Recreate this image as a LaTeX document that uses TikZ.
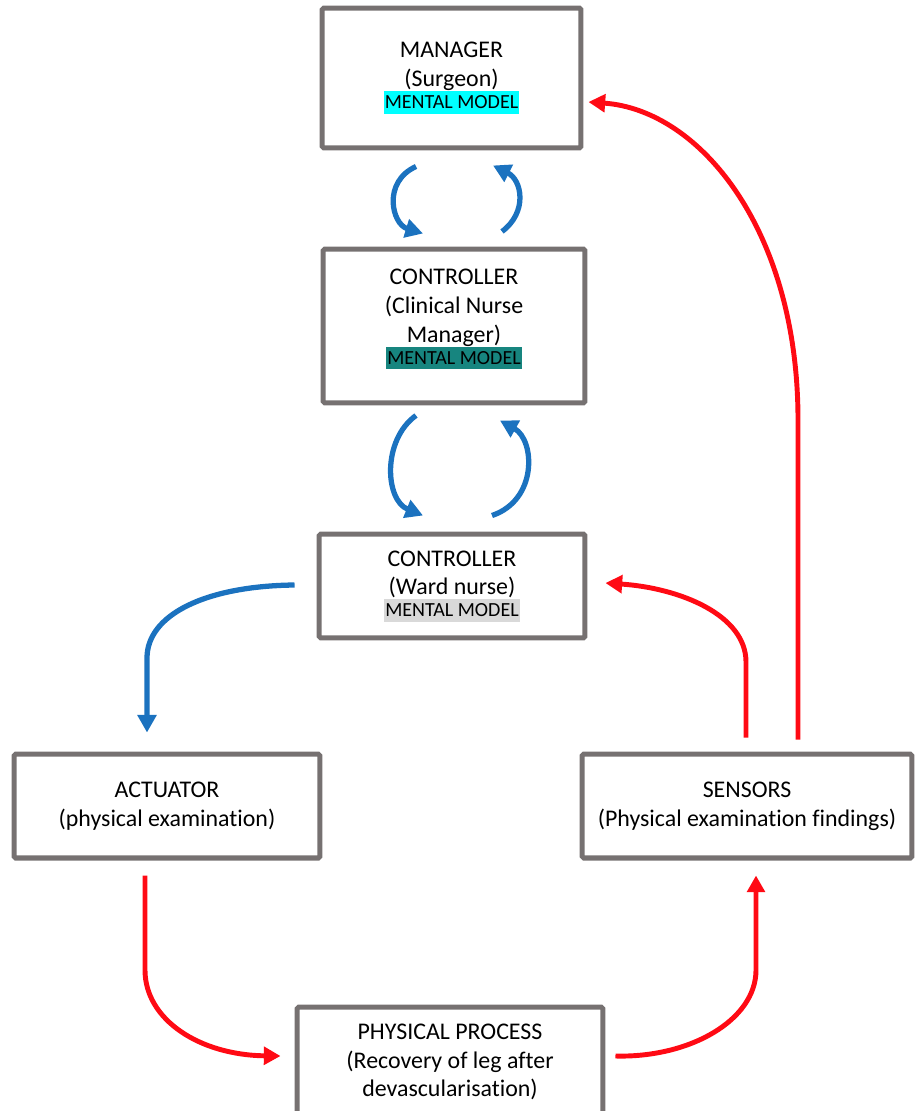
\documentclass[tikz,border=0pt]{standalone}
\usepackage{fontspec}
\setmainfont[Ligatures=NoCommon]{Carlito}
\usetikzlibrary{arrows.meta,calc}
\definecolor{boxgray}{HTML}{767171}
\definecolor{flowblue}{HTML}{1B72BF}
\definecolor{flowred}{HTML}{FF0A14}
\definecolor{mmcyan}{HTML}{00FFFF}
\definecolor{mmteal}{HTML}{17857F}
\definecolor{mmgray}{HTML}{D9D9D9}
\newcommand{\mentalmodel}[1]{{\fontsize{11.4}{13}\selectfont\setlength{\fboxsep}{0pt}%
    \colorbox{#1}{\rule[-2.8pt]{0pt}{12.8pt}\hspace{0.6pt}MENTAL MODEL\hspace{0.6pt}}}}

\begin{document}
\begin{tikzpicture}[x=0.02cm, y=-0.02cm,
    box/.style={draw=boxgray, line width=2.85pt, rounded corners=1pt, align=center, inner sep=0pt,
        font=\fontsize{13.6}{16.4}\selectfont},
    blueflow/.style={draw=flowblue, line width=3pt, -{Triangle[length=10pt,width=10.5pt]}},
    redflow/.style={draw=flowred, line width=2.8pt, -{Triangle[length=9.5pt,width=10pt]}}]
    \useasboundingbox (0,0) rectangle (914,1111);

    \node[box, minimum width=5.18cm, minimum height=2.8cm] (mgr) at (451.5,78)
        {MANAGER\\(Surgeon)\\[-4pt]\mentalmodel{mmcyan}};
    \node[box, minimum width=5.24cm, minimum height=3.08cm] (cnm) at (454,326)
        {CONTROLLER\\(Clinical Nurse\\Manager)\\[-4pt]\mentalmodel{mmteal}\\[-6pt]\mbox{}};
    \node[box, minimum width=5.32cm, minimum height=2.08cm] (ward) at (452,586)
        {CONTROLLER\\(Ward nurse)\\[-4pt]\mentalmodel{mmgray}};
    \node[box, minimum width=6.12cm, minimum height=2.08cm] (act) at (167,806)
        {ACTUATOR\\(physical examination)};
    \node[box, minimum width=6.6cm, minimum height=2.08cm] (sens) at (747,806)
        {SENSORS\\(Physical examination findings)};
    \node[box, minimum width=6.12cm, minimum height=2.2cm] (phys) at (450,1062)
        {PHYSICAL PROCESS\\(Recovery of leg after\\devascularisation)};

    \path[blueflow] ($(mgr.south)+(-35.5,16)$) .. controls (382,182) and (392,224) .. ($(cnm.north)+(-31,-13)$);
    \path[blueflow] ($(cnm.north)+(48,-15)$) .. controls (528,212) and (522,180) .. ($(mgr.south)+(41.5,15)$);
    \path[blueflow] ($(cnm.south)+(-38,10)$) .. controls (382,440) and (385,500) .. ($(ward.north)+(-29,-16)$);
    \path[blueflow] ($(ward.north)+(40,-16)$) .. controls (538,500) and (535,440) .. ($(cnm.south)+(46,15)$);
    \path[blueflow] ($(ward.west)+(-22,-1)$) .. controls (205,586) and (147,615) .. (147,658)
        -- ($(act.north)+(-20,-19)$);

    \path[redflow] ($(sens.north)+(51,-12)$) -- (798,420) .. controls (798,230) and (700,110) .. ($(mgr.east)+(5,24)$);
    \path[redflow] ($(sens.north)+(-1,-14)$) -- (746,662) .. controls (746,615) and (680,588) .. ($(ward.east)+(18,-3)$);
    \path[redflow] ($(act.south)+(-22,15)$) -- (145,970) .. controls (145,1020) and (200,1055) .. ($(phys.west)+(-14,-6)$);
    \path[redflow] ($(phys.east)+(10,-6)$) .. controls (690,1058) and (756,1020) .. (756,970) -- ($(sens.south)+(9,15)$);
\end{tikzpicture}
\end{document}
